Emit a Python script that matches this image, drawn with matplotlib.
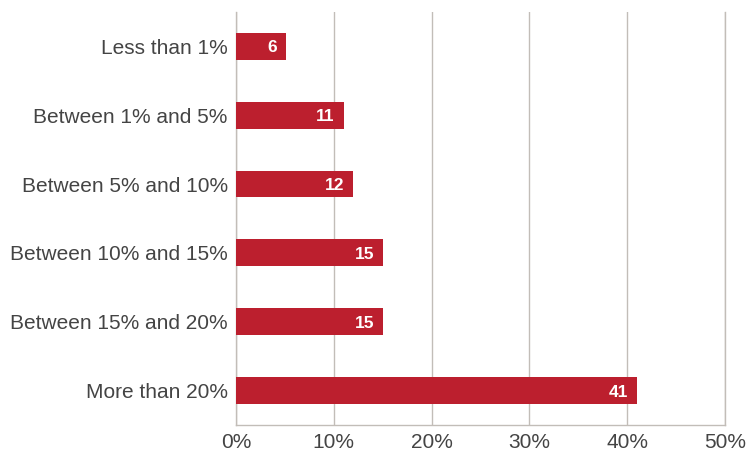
import matplotlib
matplotlib.use('Agg')
import matplotlib.pyplot as plt

categories = ['Less than 1%', 'Between 1% and 5%', 'Between 5% and 10%',
              'Between 10% and 15%', 'Between 15% and 20%', 'More than 20%']
# bar lengths as drawn, and the labels printed on them
values = [5.1, 11, 12, 15, 15, 41]
labels = ['6', '11', '12', '15', '15', '41']
xticks = [0, 10, 20, 30, 40, 50]
xtick_labels = ['0%', '10%', '20%', '30%', '40%', '50%']

RED = '#BC1F2E'
GRID = '#C2BDB8'
TEXT = '#444444'

plt.rcParams['font.family'] = ['Liberation Sans', 'DejaVu Sans']

fig = plt.figure(figsize=(7.48, 4.54), dpi=100)
ax = fig.add_axes([0.3155, 0.0639, 0.6538, 0.9097])

y = list(range(len(categories)))
ax.barh(y, values, height=0.39, color=RED, zorder=3)
for yi, v, lab in zip(y, values, labels):
    ax.text(v - 0.9, yi, lab, ha='right', va='center_baseline', color='white',
            fontsize=12.5, fontweight='bold', zorder=4)

ax.set_xlim(0, 50)
ax.set_ylim(len(categories) - 0.5, -0.5)
ax.set_yticks(y)
ax.set_yticklabels(categories)
ax.set_xticks(xticks)
ax.set_xticklabels(xtick_labels)
ax.tick_params(axis='both', length=0, labelsize=15, colors=TEXT)
ax.tick_params(axis='y', pad=6)
ax.tick_params(axis='x', pad=6)
ax.grid(axis='x', color=GRID, linewidth=1, zorder=0)
ax.spines['top'].set_visible(False)
for side in ['left', 'bottom', 'right']:
    ax.spines[side].set_color(GRID)
    ax.spines[side].set_linewidth(1)

fig.savefig('out.png', dpi=100)
